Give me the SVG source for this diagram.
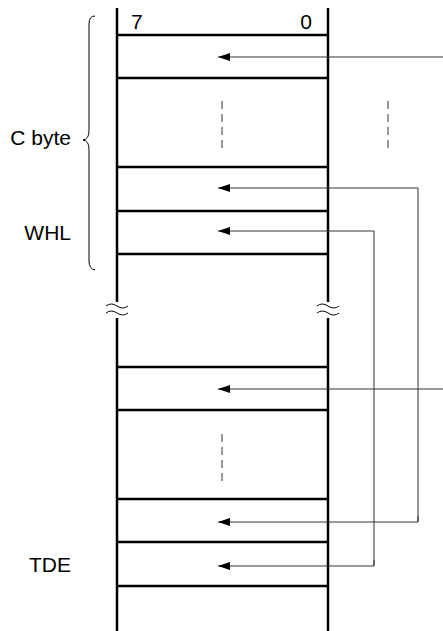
<svg xmlns="http://www.w3.org/2000/svg" width="443" height="631" viewBox="0 0 443 631">
<defs>
<marker id="ah" viewBox="0 0 12 8" refX="12" refY="4" markerWidth="12" markerHeight="8" markerUnits="userSpaceOnUse" orient="auto">
<path d="M12,4 L0,0 L0,8 Z" fill="#000"/>
</marker>
<style>
.frame{stroke:#000;stroke-width:2.5;fill:none}
.row{stroke:#000;stroke-width:2.5;fill:none}
.conn{stroke:#333;stroke-width:1;fill:none}
.dash{stroke:#333;stroke-width:1;stroke-dasharray:8,5;fill:none}
.txt{font-family:"Liberation Sans",Arial,sans-serif;font-size:21px;fill:#000}
.brk{stroke:#000;stroke-width:1;fill:none}
</style>
</defs>
<rect width="443" height="631" fill="#fff"/>
<g id="frame">
<line class="frame" x1="117" y1="8" x2="117" y2="631"/>
<line class="frame" x1="328" y1="8" x2="328" y2="631"/>
<rect x="112" y="302" width="10" height="16" fill="#fff"/>
<rect x="323" y="302" width="10" height="16" fill="#fff"/>
<path class="brk" d="M106,306 q5,-4 11,0 t11,0 M106,313 q5,-4 11,0 t11,0"/>
<path class="brk" d="M317,306 q5,-4 11,0 t11,0 M317,313 q5,-4 11,0 t11,0"/>
<text class="txt" x="131" y="29">7</text>
<text class="txt" x="312" y="29" text-anchor="end">0</text>
</g>
<g id="rows">
<line class="row" x1="117" y1="35" x2="328" y2="35"/>
<line class="row" x1="117" y1="78" x2="328" y2="78"/>
<line class="row" x1="117" y1="167" x2="328" y2="167"/>
<line class="row" x1="117" y1="211" x2="328" y2="211"/>
<line class="row" x1="117" y1="254" x2="328" y2="254"/>
<line class="row" x1="117" y1="367" x2="328" y2="367"/>
<line class="row" x1="117" y1="410" x2="328" y2="410"/>
<line class="row" x1="117" y1="499" x2="328" y2="499"/>
<line class="row" x1="117" y1="542" x2="328" y2="542"/>
<line class="row" x1="117" y1="586" x2="328" y2="586"/>
</g>
<g id="dashes">
<line class="dash" x1="222" y1="101" x2="222" y2="150"/>
<line class="dash" x1="388" y1="101" x2="388" y2="150"/>
<line class="dash" x1="222" y1="434" x2="222" y2="483"/>
</g>
<g id="labels">
<path class="brk" d="M95,16 Q89,16 89,24 L89,131 Q89,139 83,140 Q89,141 89,149 L89,261 Q89,269 95,270"/>
<text class="txt" x="71" y="145" text-anchor="end">C byte</text>
<text class="txt" x="71" y="240" text-anchor="end">WHL</text>
<text class="txt" x="71" y="572" text-anchor="end">TDE</text>
</g>
<g id="connectors">
<line class="conn" x1="443" y1="57" x2="218" y2="57" marker-end="url(#ah)"/>
<polyline class="conn" points="418,522 418,188 218,188" marker-end="url(#ah)"/>
<polyline class="conn" points="374,566 374,231 218,231" marker-end="url(#ah)"/>
<line class="conn" x1="443" y1="389" x2="218" y2="389" marker-end="url(#ah)"/>
<polyline class="conn" points="418,516 418,522 218,522" marker-end="url(#ah)"/>
<polyline class="conn" points="374,560 374,566 218,566" marker-end="url(#ah)"/>
</g>
</svg>
